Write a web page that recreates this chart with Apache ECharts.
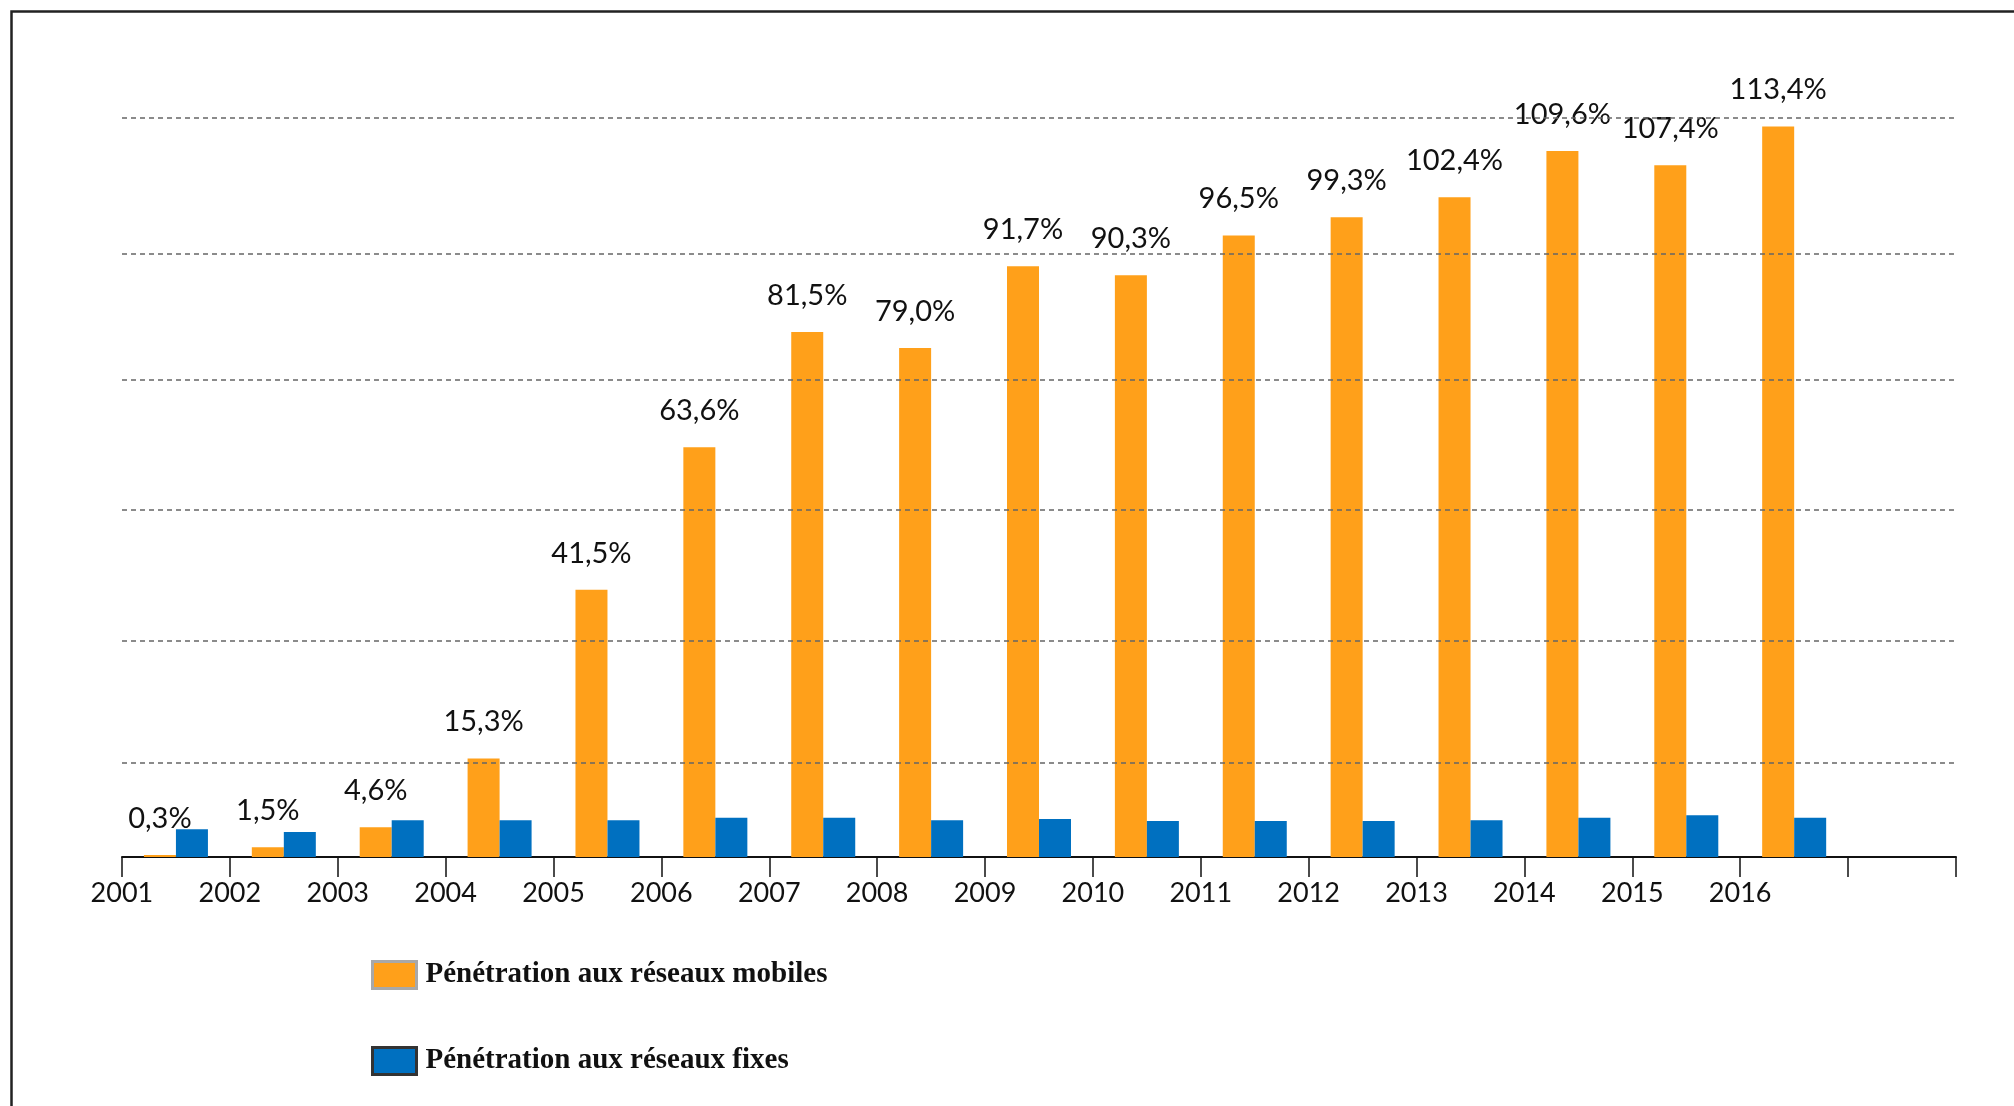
<!DOCTYPE html>
<html>
<head>
<meta charset="utf-8">
<script src="https://cdn.jsdelivr.net/npm/echarts@6/dist/echarts.min.js"></script>
<style>
html,body{margin:0;padding:0;background:#fff;}
#chart{width:2014px;height:1106px;}
</style>
</head>
<body>
<div id="chart"></div>
<script>
// ---- data ----
const years = ['2001','2002','2003','2004','2005','2006','2007','2008','2009','2010','2011','2012','2013','2014','2015','2016'];
const mobile = [0.3, 1.5, 4.6, 15.3, 41.5, 63.6, 81.5, 79.0, 91.7, 90.3, 96.5, 99.3, 102.4, 109.6, 107.4, 113.4];
const fixed = [4.3, 3.9, 5.7, 5.7, 5.7, 6.1, 6.1, 5.7, 5.9, 5.6, 5.6, 5.6, 5.7, 6.1, 6.5, 6.1];
const gridValues = [14.7, 33.5, 53.9, 74.1, 93.6, 114.8];
const seriesNames = ['Pénétration aux réseaux mobiles', 'Pénétration aux réseaux fixes'];

const chart = echarts.init(document.getElementById('chart'));
const fmt = v => v.toFixed(1).replace('.', ',') + '%';

chart.setOption({
  animation: false,
  backgroundColor: '#fff',
  graphic: [{
    type: 'rect',
    left: 9, top: 9,
    shape: { width: 2100, height: 1200 },
    style: { fill: 'none', stroke: '#222', lineWidth: 2.5 },
    silent: true
  }],
  grid: { left: 122, right: 58, top: 84, bottom: 249, containLabel: false },
  legend: {
    orient: 'vertical',
    left: 366, top: 955,
    itemWidth: 44, itemHeight: 27,
    itemGap: 56,
    icon: 'rect',
    textStyle: { fontFamily: 'Liberation Serif', fontWeight: 'bold', fontSize: 29, color: '#111', padding: [0,0,0,4] },
    data: [
      { name: seriesNames[0], itemStyle: { color: '#FFA01A', borderColor: '#a8a8a8', borderWidth: 3 } },
      { name: seriesNames[1], itemStyle: { color: '#0070C0', borderColor: '#333', borderWidth: 3 } }
    ]
  },
  xAxis: {
    type: 'category',
    data: years.concat(['']),
    boundaryGap: true,
    axisLine: { show: true, lineStyle: { color: '#111', width: 2 } },
    axisTick: { show: true, length: 20, lineStyle: { color: '#111', width: 1.5 } },
    axisLabel: {
      interval: 0,
      margin: 23,
      fontFamily: 'Lato',
      fontSize: 27,
      color: '#111',
      padding: [0, 108, 0, 0]
    },
    splitLine: { show: false }
  },
  yAxis: {
    type: 'value',
    min: 0, max: 120,
    show: false,
    splitLine: { show: false }
  },
  series: [
    {
      name: seriesNames[0],
      type: 'bar',
      data: mobile,
      barWidth: 32,
      barGap: '0%',
      itemStyle: { color: '#FFA01A' },
      label: {
        show: true,
        position: 'top',
        distance: 22,
        fontFamily: 'Lato',
        fontSize: 29,
        color: '#111',
        formatter: p => fmt(p.value)
      }
    },
    {
      name: seriesNames[1],
      type: 'bar',
      data: fixed,
      barWidth: 32,
      barGap: '0%',
      itemStyle: { color: '#0070C0' },
      markLine: {
        silent: true,
        symbol: 'none',
        label: { show: false },
        lineStyle: { color: '#666', type: [5, 4], width: 1.5 },
        data: gridValues.map(v => ({ yAxis: v }))
      }
    }
  ]
});
</script>
</body>
</html>
